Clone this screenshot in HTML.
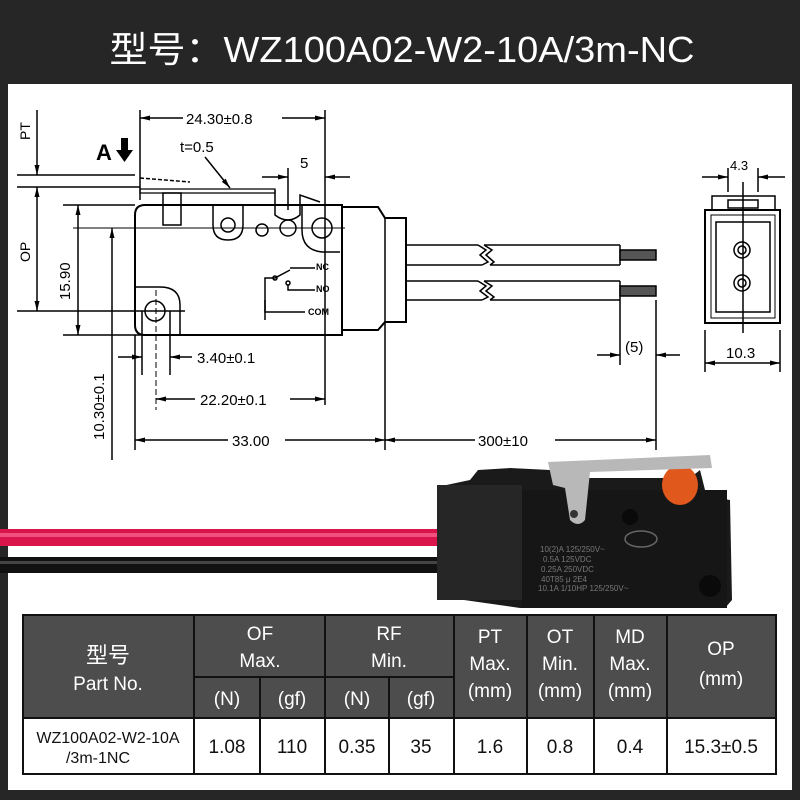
<!DOCTYPE html>
<html><head><meta charset="utf-8"><style>
html,body{margin:0;padding:0;background:#262626;}
svg{display:block;}
text{font-family:"Liberation Sans","Noto Sans CJK SC",sans-serif;}
</style></head><body>
<svg width="800" height="800" viewBox="0 0 800 800" xmlns="http://www.w3.org/2000/svg">
<defs>
<marker id="ar" markerWidth="10" markerHeight="6" refX="10" refY="3" orient="auto-start-reverse" markerUnits="userSpaceOnUse"><path d="M0,0.5 L10,3 L0,5.5z" fill="#000"/></marker>
</defs>
<rect width="800" height="800" fill="#262626"/>
<text x="402" y="62" fill="#fff" font-size="36" text-anchor="middle" textLength="585" lengthAdjust="spacingAndGlyphs">型号：WZ100A02-W2-10A/3m-NC</text>
<rect x="8" y="84" width="784" height="706" fill="#fff"/>

<g stroke="#000" stroke-width="1.5" fill="none">
<line x1="17" y1="175" x2="135" y2="175"/>
<line x1="17" y1="187" x2="140" y2="187"/>
<line x1="63" y1="205" x2="135" y2="205"/>
<line x1="73" y1="228" x2="345" y2="228" stroke-width="1"/>
<line x1="17" y1="311" x2="185" y2="311"/>
<line x1="63" y1="335" x2="320" y2="335"/>
<line x1="37" y1="110" x2="37" y2="175" marker-end="url(#ar)"/>
<line x1="37" y1="187" x2="37" y2="311" marker-start="url(#ar)" marker-end="url(#ar)"/>
<line x1="78" y1="205" x2="78" y2="335" marker-start="url(#ar)" marker-end="url(#ar)"/>
<line x1="112" y1="228" x2="112" y2="460" marker-start="url(#ar)"/>
<path d="M135,215 Q135,205 145,205 L342,205 L342,335 L145,335 Q135,335 135,325 Z" stroke-width="2"/>
<path d="M342,207 L378,207 L385,218 L406,218 L406,322 L385,322 L378,330 L342,330" stroke-width="2"/>
<line x1="385" y1="218" x2="385" y2="322"/>
<path d="M135,287 L160,287 Q180,287 180,305 L180,335" />
<circle cx="155" cy="311" r="10"/>
<line x1="142" y1="311" x2="142" y2="375"/><line x1="170" y1="311" x2="170" y2="375"/>
<line x1="156" y1="290" x2="156" y2="410" stroke-dasharray="6,3" stroke-width="1"/>
<path d="M213,205 L213,225 Q213,240 228,240 Q243,240 243,225 L243,205"/>
<circle cx="228" cy="225" r="7"/>
<circle cx="262" cy="230" r="6"/>
<circle cx="288" cy="228" r="8"/>
<circle cx="322" cy="228" r="10"/>
<path d="M302,205 L302,230 Q302,250 322,252 L340,252"/>
<rect x="163" y="193" width="18" height="32"/>
<path d="M140,189 L275,189 L275,193 L140,193 Z" stroke-width="1.2"/>
<path d="M140,178 L190,182" stroke-dasharray="4,2"/>
<path d="M275,190 L275,215 Q288,225 300,215 L300,195 L320,202" />
<path d="M265,320 L265,278 L275,278 L290,270 M290,268 L315,268"/>
<circle cx="275" cy="278" r="2"/><circle cx="288" cy="283" r="2"/>
<path d="M288,285 L288,290 L315,290"/>
<path d="M265,300 L265,312 L305,312"/>
<line x1="140" y1="110" x2="140" y2="200"/>
<line x1="325" y1="110" x2="325" y2="405"/>
<line x1="140" y1="118" x2="183" y2="118" marker-start="url(#ar)"/>
<line x1="282" y1="118" x2="325" y2="118" marker-end="url(#ar)"/>
<line x1="205" y1="157" x2="230" y2="188" marker-end="url(#ar)"/>
<line x1="288" y1="168" x2="288" y2="210"/>
<line x1="262" y1="177" x2="288" y2="177" marker-end="url(#ar)"/>
<line x1="350" y1="177" x2="325" y2="177" marker-end="url(#ar)"/>
<line x1="118" y1="357" x2="142" y2="357" marker-end="url(#ar)"/>
<line x1="192" y1="357" x2="170" y2="357" marker-end="url(#ar)"/>
<line x1="156" y1="399" x2="195" y2="399" marker-start="url(#ar)"/>
<line x1="290" y1="399" x2="325" y2="399" marker-end="url(#ar)"/>
<line x1="135" y1="335" x2="135" y2="450"/>
<line x1="385" y1="322" x2="385" y2="450"/>
<line x1="656" y1="300" x2="656" y2="450"/>
<line x1="135" y1="440" x2="228" y2="440" marker-start="url(#ar)"/>
<line x1="285" y1="440" x2="385" y2="440" marker-end="url(#ar)"/>
<line x1="385" y1="440" x2="475" y2="440" marker-start="url(#ar)"/>
<line x1="555" y1="440" x2="656" y2="440" marker-end="url(#ar)"/>
<path d="M406,245 L478,245 M484,245 L620,245 M406,265 L482,265 M490,265 L620,265 M620,245 L620,265"/>
<path d="M478,245 L486,250 L480,255 L488,262 L482,265 M484,245 L492,250 L486,255 L494,262 L490,265"/>
<path d="M406,281 L478,281 M484,281 L620,281 M406,300 L482,300 M490,300 L620,300 M620,281 L620,300"/>
<path d="M478,281 L486,286 L480,291 L488,297 L482,300 M484,281 L492,286 L486,291 L494,297 L490,300"/>
<rect x="620" y="250" width="36" height="10" fill="#555"/>
<rect x="620" y="286" width="36" height="10" fill="#555"/>
<line x1="620" y1="300" x2="620" y2="365"/>
<line x1="597" y1="355" x2="620" y2="355" marker-end="url(#ar)"/>
<line x1="680" y1="355" x2="656" y2="355" marker-end="url(#ar)"/>
<rect x="705" y="210" width="75" height="113" stroke-width="2"/>
<rect x="716" y="222" width="54" height="90"/>
<rect x="711" y="215" width="64" height="103" stroke-width="1"/>
<path d="M712,210 L712,196 L775,196 L775,210"/>
<rect x="728" y="200" width="30" height="8"/>
<circle cx="742" cy="250" r="8"/><circle cx="742" cy="250" r="4"/>
<circle cx="742" cy="283" r="8"/><circle cx="742" cy="283" r="4"/>
<line x1="743" y1="182" x2="743" y2="333"/>
<line x1="728" y1="168" x2="728" y2="192"/><line x1="758" y1="168" x2="758" y2="192"/>
<line x1="702" y1="177" x2="728" y2="177" marker-end="url(#ar)"/>
<line x1="785" y1="177" x2="758" y2="177" marker-end="url(#ar)"/>
<line x1="705" y1="330" x2="705" y2="372"/><line x1="780" y1="330" x2="780" y2="372"/>
<line x1="705" y1="363" x2="780" y2="363" marker-start="url(#ar)" marker-end="url(#ar)"/>
</g>
<text x="96" y="160" font-size="22" font-weight="bold">A</text>
<path d="M121,138 L128,138 L128,150 L133,150 L124.5,162 L116,150 L121,150 Z" fill="#000"/>
<g font-size="15" fill="#000">
<text x="186" y="124">24.30±0.8</text>
<text x="180" y="152">t=0.5</text>
<text x="300" y="168">5</text>
<text x="197" y="363">3.40±0.1</text>
<text x="200" y="405">22.20±0.1</text>
<text x="232" y="446">33.00</text>
<text x="478" y="446">300±10</text>
<text x="625" y="352">(5)</text>
<text x="730" y="170" font-size="13">4.3</text>
<text x="726" y="358">10.3</text>
<text transform="translate(30,140) rotate(-90)" font-size="14">PT</text>
<text transform="translate(30,262) rotate(-90)" font-size="14">OP</text>
<text transform="translate(70,300) rotate(-90)">15.90</text>
<text transform="translate(104,440) rotate(-90)">10.30±0.1</text>
<text x="316" y="270" font-size="9" font-weight="bold">NC</text>
<text x="316" y="292" font-size="9" font-weight="bold">NO</text>
<text x="308" y="315" font-size="9" font-weight="bold">COM</text>
</g>

<rect x="0" y="529" width="445" height="17" fill="#d8144a"/>
<rect x="0" y="533" width="445" height="4" fill="#f05080"/>
<rect x="0" y="557" width="445" height="16" fill="#111"/>
<rect x="0" y="561" width="445" height="3" fill="#444"/>
<path d="M437,487 L470,480 L478,470 L510,468 L550,470 L560,478 L690,478 L700,470 L705,490 L718,498 L730,500 L732,600 L725,608 L520,608 L450,598 L440,590 Z" fill="#1a1a1a"/>
<rect x="437" y="485" width="85" height="115" fill="#262626"/>
<rect x="522" y="490" width="205" height="118" fill="#161616"/>
<ellipse cx="680" cy="485" rx="18" ry="20" fill="#e0581c"/>
<path d="M548,462 L710,455 L712,468 L590,472 L585,520 Q578,528 570,520 L565,488 L553,485 Z" fill="#b8b8b8"/>
<circle cx="574" cy="514" r="4" fill="#333"/>
<circle cx="630" cy="517" r="8" fill="#0a0a0a"/>
<circle cx="710" cy="586" r="11" fill="#0a0a0a"/>
<ellipse cx="641" cy="539" rx="16" ry="8" fill="none" stroke="#666" stroke-width="1.5"/>
<g fill="#777" font-size="8">
<text x="540" y="552">10(2)A 125/250V~</text>
<text x="543" y="562">0.5A 125VDC</text>
<text x="541" y="572">0.25A 250VDC</text>
<text x="541" y="582">40T85 μ 2E4</text>
<text x="538" y="591">10.1A 1/10HP 125/250V~</text>
</g>

<g stroke="#111" stroke-width="2">
<rect x="23" y="615" width="753" height="103" fill="#4d4d4d"/>
<rect x="23" y="718" width="753" height="56" fill="#fff"/>
<line x1="194" y1="615" x2="194" y2="774"/>
<line x1="325" y1="615" x2="325" y2="774"/>
<line x1="454" y1="615" x2="454" y2="774"/>
<line x1="527" y1="615" x2="527" y2="774"/>
<line x1="594" y1="615" x2="594" y2="774"/>
<line x1="667" y1="615" x2="667" y2="774"/>
<line x1="260" y1="677" x2="260" y2="774"/>
<line x1="389" y1="677" x2="389" y2="774"/>
<line x1="194" y1="677" x2="454" y2="677"/>
</g>
<g fill="#fff" font-size="19" text-anchor="middle">
<text x="108" y="663" font-size="22">型号</text>
<text x="108" y="690">Part No.</text>
<text x="260" y="640">OF</text><text x="260" y="667">Max.</text>
<text x="389" y="640">RF</text><text x="389" y="667">Min.</text>
<text x="227" y="705">(N)</text><text x="292" y="705">(gf)</text>
<text x="357" y="705">(N)</text><text x="421" y="705">(gf)</text>
<text x="490" y="643">PT</text><text x="490" y="670">Max.</text><text x="490" y="697">(mm)</text>
<text x="560" y="643">OT</text><text x="560" y="670">Min.</text><text x="560" y="697">(mm)</text>
<text x="630" y="643">MD</text><text x="630" y="670">Max.</text><text x="630" y="697">(mm)</text>
<text x="721" y="655">OP</text><text x="721" y="685">(mm)</text>
</g>
<g fill="#111" font-size="19" text-anchor="middle">
<text x="108" y="743" font-size="16">WZ100A02-W2-10A</text>
<text x="98" y="763" font-size="16">/3m-1NC</text>
<text x="227" y="753">1.08</text><text x="292" y="753">110</text>
<text x="357" y="753">0.35</text><text x="421" y="753">35</text>
<text x="490" y="753">1.6</text><text x="560" y="753">0.8</text>
<text x="630" y="753">0.4</text><text x="721" y="753">15.3±0.5</text>
</g>
</svg>
</body></html>
